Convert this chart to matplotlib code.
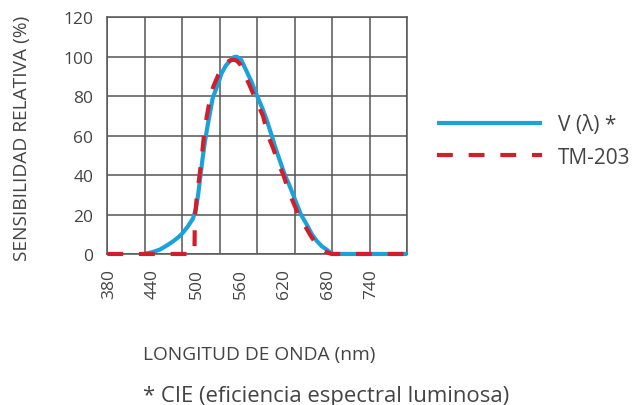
import numpy as np
import matplotlib
matplotlib.use("Agg")
import matplotlib.pyplot as plt

plt.rcParams['font.family'] = ['Open Sans', 'DejaVu Sans']

# CIE V(lambda) curve
wl_v = [428, 440, 450, 460, 468, 475, 481, 488, 495, 499, 502, 505, 508, 511,
        515, 518, 522, 525, 530, 534, 540, 546, 551, 555, 561, 568, 575, 583,
        590, 596, 603, 607, 613, 621, 627, 635, 643, 651, 658, 665, 672, 678,
        683, 687, 789]
val_v = [0, 1, 2.3, 4.5, 6.5, 8.5, 10.7, 14, 18, 23, 30, 39, 48, 56,
         65, 71, 79, 82, 87, 91.5, 95.5, 98, 99.8, 100, 98.5, 93, 87.5, 80,
         74, 68, 60, 55, 48.5, 40, 35, 27.5, 20, 14.9, 10, 6.5, 3.8, 2.3,
         0.8, 0, 0]

# TM-203 measured curve
wl_tm = [377.5, 497, 497.5, 500, 504, 507, 510, 514, 519, 523, 530, 539, 545,
         550, 555, 560, 566, 572, 579, 585, 591, 598, 605, 612, 619, 627, 635,
         639, 642, 649, 656, 664, 672, 679, 685, 789]
val_tm = [0, 0, 18, 28, 40, 49, 60, 70, 80, 85, 91, 96, 98,
          98.5, 98, 96, 91, 86, 80, 75, 70, 60, 53.5, 46, 40, 31, 24,
          20, 18, 14, 9.5, 5, 2.5, 0.8, 0, 0]

x_ticks = [380, 440, 500, 560, 620, 680, 740]
y_ticks = [0, 20, 40, 60, 80, 100, 120]

blue = '#1ba1dc'
red = '#d01f2a'
grid_c = '#555555'
txt_c = '#444444'

fig = plt.figure(figsize=(6.37, 4.06), dpi=100)
ax = fig.add_axes([0.1685, 0.372, 0.471, 0.583])

xmin, xmax = 377.5, 789
ax.set_xlim(xmin, xmax)
ax.set_ylim(0, 120)

ax.plot(wl_v, val_v, color=blue, lw=3, solid_capstyle='butt', clip_on=False,
        label='V (λ) *', zorder=3)
ax.plot(wl_tm, val_tm, color=red, lw=3, dashes=(3.8, 3.8), clip_on=False,
        label='TM-203', zorder=4)

ax.set_xticks(x_ticks)
ax.set_xticks(np.linspace(xmin, xmax, 9), minor=True)
ax.set_yticks(y_ticks)
ax.grid(which='minor', axis='x', color=grid_c, lw=1.1)
ax.grid(which='major', axis='y', color=grid_c, lw=1.1)
ax.set_axisbelow(True)
ax.tick_params(which='both', length=0, colors=txt_c, labelsize=12.5)
ax.tick_params(axis='y', pad=10)
ax.tick_params(axis='x', pad=10, rotation=90)
for s in ax.spines.values():
    s.set_color(grid_c)
    s.set_linewidth(1.1)

fig.text(22 / 637, 1 - 138 / 406, 'SENSIBILIDAD RELATIVA (%)', rotation=90,
         ha='center', va='center', fontsize=13.8, color=txt_c)
fig.text(143 / 637, 1 - 355 / 406, 'LONGITUD DE ONDA (nm)', ha='left',
         va='center', fontsize=13.8, color=txt_c)
fig.text(143 / 637, 1 - 397 / 406, '* CIE (eficiencia espectral luminosa)',
         ha='left', va='center', fontsize=15.9, color=txt_c)

leg = fig.legend(loc='center left', bbox_to_anchor=(429 / 637, 1 - 142 / 406),
                 frameon=False, handlelength=5.0, handletextpad=0.8,
                 labelspacing=0.55, borderaxespad=0, fontsize=15)
for t in leg.get_texts():
    t.set_color(txt_c)

fig.savefig('out.png', dpi=100)
